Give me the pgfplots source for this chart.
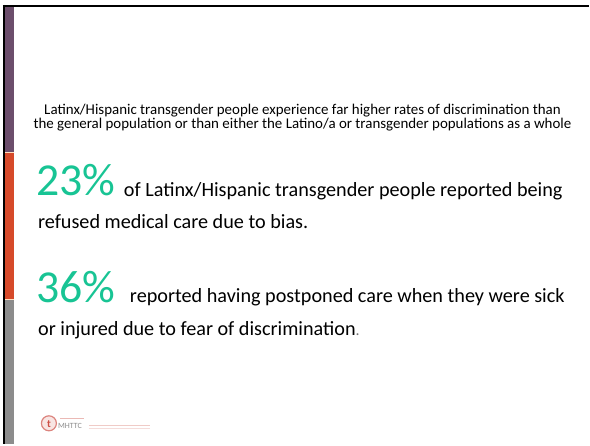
\documentclass[border=0pt]{standalone}
\usepackage{pgfplots}
\pgfplotsset{compat=1.18}
\usepackage{fontspec}
\setmainfont{Carlito}
\definecolor{barpurple}{RGB}{108,78,108}
\definecolor{barorange}{RGB}{214,74,42}
\definecolor{bargray}{RGB}{140,140,140}
\definecolor{statteal}{RGB}{24,196,148}
\definecolor{logored}{RGB}{205,80,70}
\begin{document}
\begin{tikzpicture}
\begin{axis}[width=590bp,height=445bp,scale only axis,
  xmin=0,xmax=590,ymin=0,ymax=445,y dir=reverse,hide axis,clip=false]
\addplot[fill=white,draw=none] coordinates {(0,0)(590,0)(590,445)(0,445)} -- cycle;
\addplot[black,line width=2bp] coordinates {(3,6)(590,6)};
\addplot[black,line width=2bp] coordinates {(4,5)(4,445)};
\addplot[fill=barpurple,draw=none] coordinates {(5,7)(14,7)(14,152)(5,152)} -- cycle;
\addplot[fill=barorange,draw=none] coordinates {(5,153.5)(14,153.5)(14,299)(5,299)} -- cycle;
\addplot[fill=bargray,draw=none] coordinates {(5,300.5)(14,300.5)(14,445)(5,445)} -- cycle;
\addplot[color=orange!25,line width=1.2bp] coordinates {(5,152.7)(14,152.7)};
\addplot[color=orange!25,line width=1.2bp] coordinates {(5,299.8)(14,299.8)};
% header
\node[anchor=base,align=center,inner sep=0,font=\fontsize{15}{14}\selectfont] at (axis cs:303,129)
  {Latinx/Hispanic transgender people experience far higher rates of discrimination than\\
   the general population or than either the Latino/a or transgender populations as a whole};
% 23%
\node[anchor=base west,inner sep=0,text=statteal,font=\fontsize{46}{46}\selectfont] at (axis cs:36,196) {23\%};
\node[anchor=base west,inner sep=0,font=\fontsize{20.3}{22}\selectfont] at (axis cs:124,197)
  {of Latinx/Hispanic transgender people reported being};
\node[anchor=base west,inner sep=0,font=\fontsize{20.3}{22}\selectfont] at (axis cs:38,229)
  {refused medical care due to bias.};
% 36%
\node[anchor=base west,inner sep=0,text=statteal,font=\fontsize{46}{46}\selectfont] at (axis cs:36,303) {36\%};
\node[anchor=base west,inner sep=0,font=\fontsize{20.3}{22}\selectfont] at (axis cs:130,303)
  {reported having postponed care when they were sick};
\node[anchor=base west,inner sep=0,font=\fontsize{20.3}{22}\selectfont] at (axis cs:38,336)
  {or injured due to fear of discrimination{\color{black!55}\fontsize{16}{18}\selectfont.}};
% logo
\node[circle,draw=logored!70,fill=logored!15,line width=1.2bp,minimum size=15bp,inner sep=0] at (axis cs:49,424) {};
\node[text=logored,inner sep=0,font=\fontsize{11}{11}\selectfont\bfseries] at (axis cs:49,424.5) {t};
\node[anchor=west,inner sep=0,text=black!45,font=\fontsize{8}{8}\selectfont] at (axis cs:58,427) {MHTTC};
\addplot[color=logored!40,line width=0.8bp] coordinates {(60,419)(84,419)};
\addplot[color=logored!30,line width=1bp] coordinates {(89,426)(150,426)};
\addplot[color=logored!20,line width=0.6bp] coordinates {(89,429.5)(150,429.5)};
\path (axis cs:0,0) rectangle (axis cs:590,445);
\end{axis}
\end{tikzpicture}
\end{document}
